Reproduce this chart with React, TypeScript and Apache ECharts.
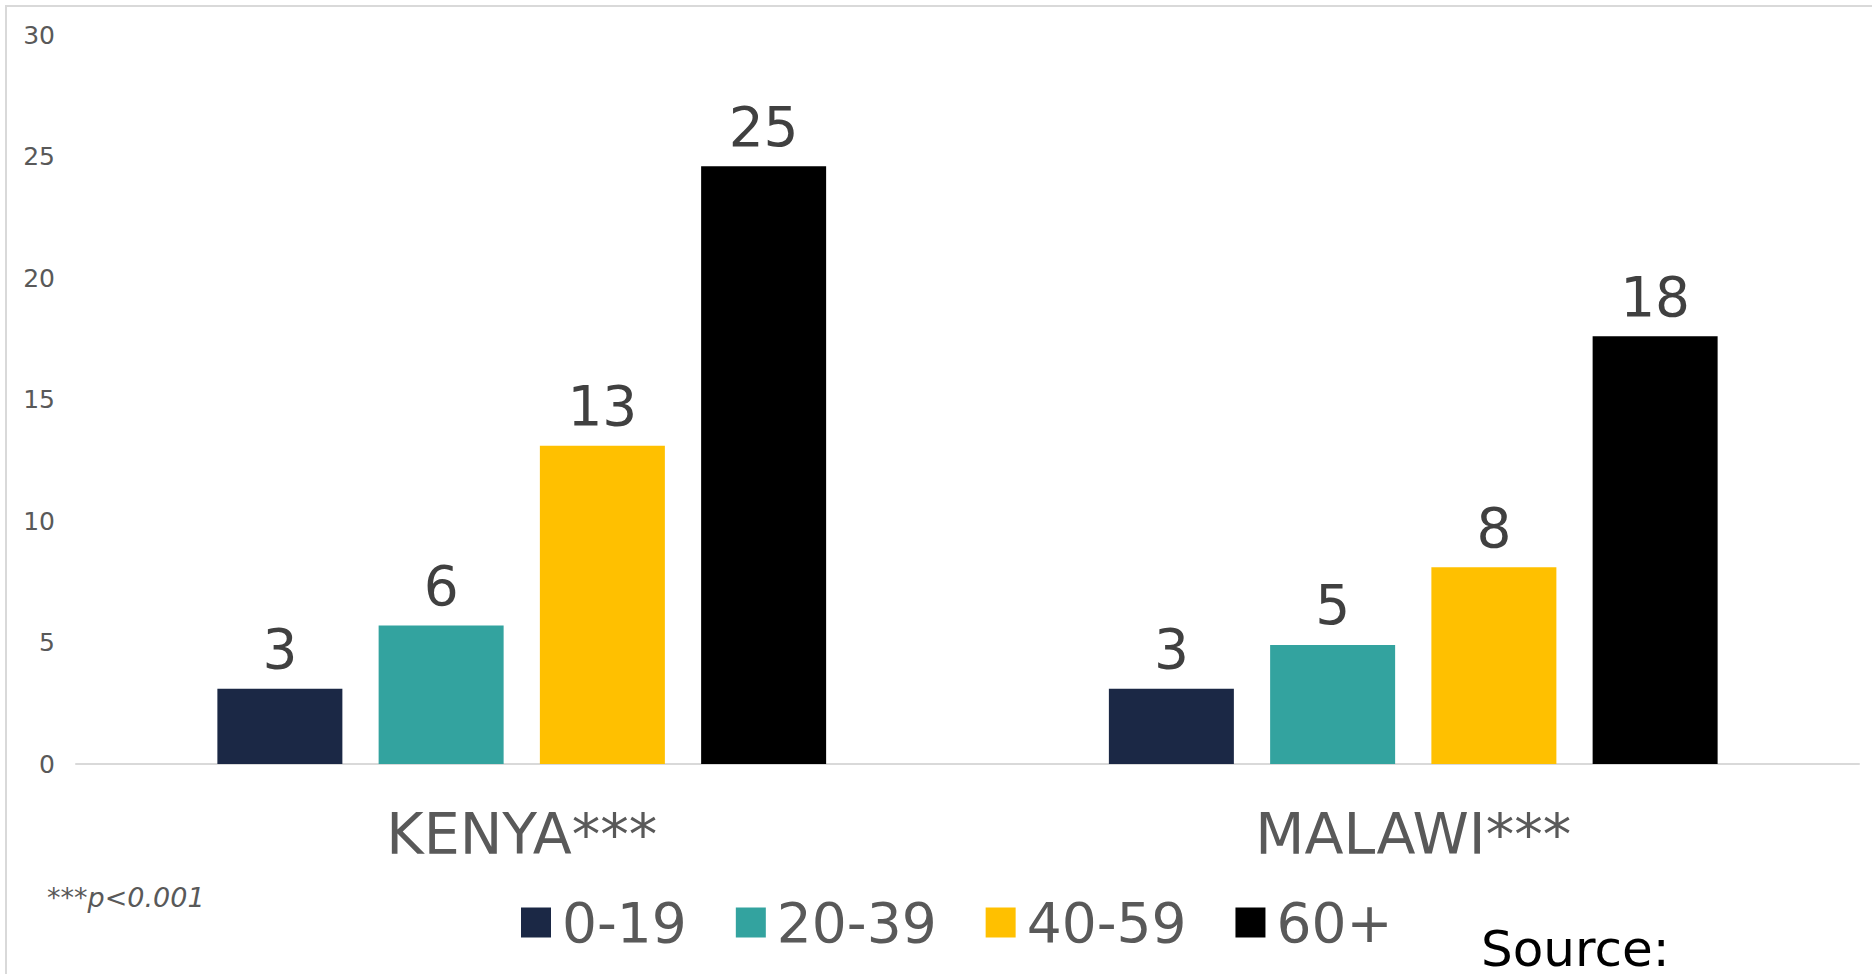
import React, { useEffect, useRef } from "react";
import * as echarts from "echarts";

const categories = ["KENYA***", "MALAWI***"];
const seriesNames = ["0-19", "20-39", "40-59", "60+"];
const values0to19 = [3.1, 3.1];
const values20to39 = [5.7, 4.9];
const values40to59 = [13.1, 8.1];
const values60plus = [24.6, 17.6];
const seriesColors = ["#1B2845", "#33A39F", "#FFC000", "#000000"];
const yTicks = { min: 0, max: 30, interval: 5 };
const footnote = "***p<0.001";
const sourceText = "Source:";

const FONT = "DejaVu Sans";

export default function App() {
  const ref = useRef<HTMLDivElement>(null);
  useEffect(() => {
    if (!ref.current) return;
    const chart = echarts.init(ref.current, undefined, { renderer: "svg" });
    const allValues = [values0to19, values20to39, values40to59, values60plus];
    chart.setOption({
      animation: false,
      backgroundColor: "#ffffff",
      textStyle: { fontFamily: FONT },
      grid: { left: 76, right: 13, top: 35, bottom: 210, containLabel: false },
      legend: {
        data: seriesNames,
        left: 521,
        top: 895,
        padding: 0,
        itemWidth: 30,
        itemHeight: 30,
        itemGap: 49,
        icon: "rect",
        textStyle: { fontSize: 55, color: "#595959", fontFamily: FONT, padding: [0, 0, 0, 6] },
      },
      xAxis: {
        type: "category",
        data: categories,
        axisLine: { show: true, lineStyle: { color: "#D9D9D9", width: 2 } },
        axisTick: { show: false },
        axisLabel: { fontSize: 57, color: "#595959", margin: 41, fontFamily: FONT },
      },
      yAxis: {
        type: "value",
        min: yTicks.min,
        max: yTicks.max,
        interval: yTicks.interval,
        axisLine: { show: false },
        axisTick: { show: false },
        splitLine: { show: false },
        axisLabel: { fontSize: 25, color: "#595959", margin: 21, fontFamily: FONT },
      },
      series: seriesNames.map((name, i) => ({
        name,
        type: "bar",
        data: allValues[i],
        barWidth: 125,
        barGap: "29%",
        itemStyle: { color: seriesColors[i] },
        label: {
          show: true,
          position: "top",
          distance: 12,
          fontSize: 55,
          color: "#404040",
          fontFamily: FONT,
          formatter: (p: any) => String(Math.round(p.value)),
        },
      })),
      graphic: [
        { type: "rect", shape: { x: 5, y: 5, width: 1867, height: 2 }, style: { fill: "#D9D9D9" } },
        { type: "rect", shape: { x: 5, y: 5, width: 2, height: 969 }, style: { fill: "#D9D9D9" } },
        {
          type: "text",
          x: 47,
          y: 897,
          style: {
            text: footnote,
            fontSize: 27,
            fontStyle: "italic",
            fontFamily: FONT,
            fill: "#595959",
            verticalAlign: "middle",
            align: "left",
          },
        },
        {
          type: "text",
          x: 1481,
          y: 974,
          style: {
            text: sourceText,
            fontSize: 50,
            lineHeight: 50,
            fontFamily: FONT,
            fill: "#000000",
            verticalAlign: "bottom",
            align: "left",
          },
        },
      ],
    });
    return () => chart.dispose();
  }, []);
  return (
    <div
      ref={ref}
      style={{ position: "absolute", left: 0, top: 0, width: 1872, height: 974 }}
    />
  );
}
